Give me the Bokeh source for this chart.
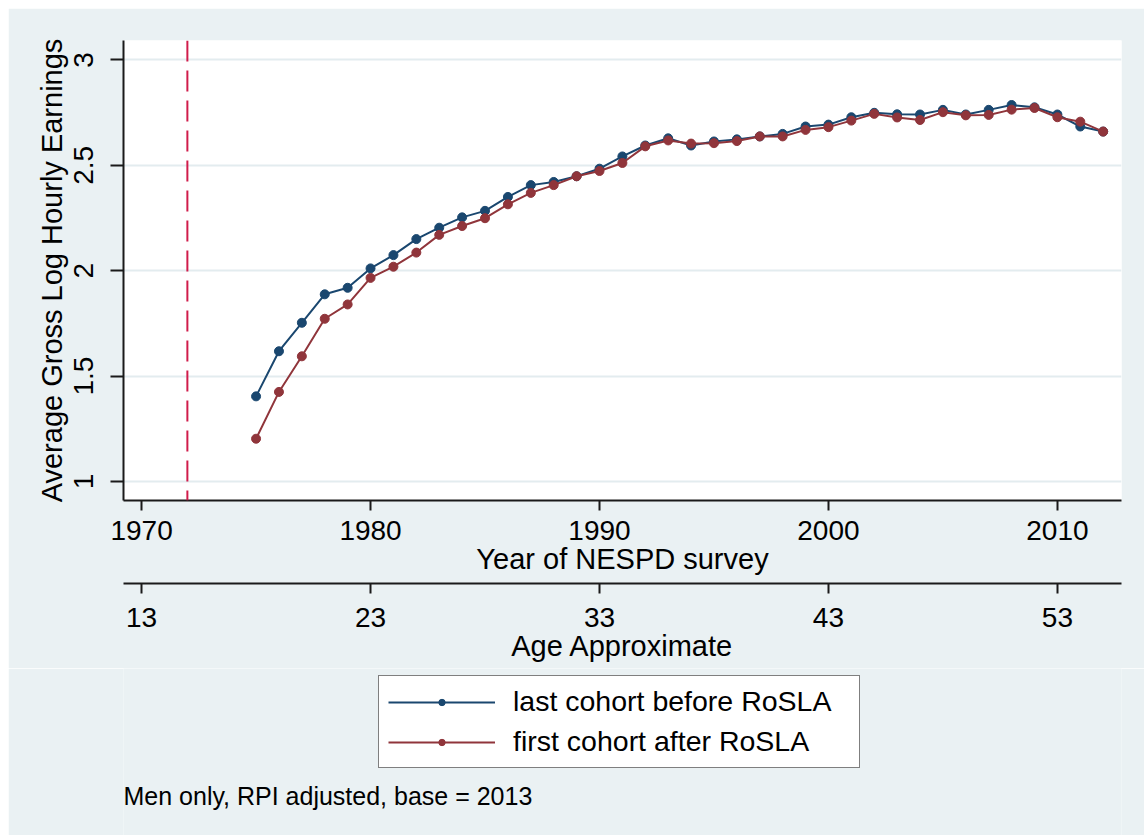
from bokeh.plotting import figure
from bokeh.layouts import column
from bokeh.models import (Range1d, LinearAxis, FixedTicker, Span, Legend,
                          LegendItem, Label)
from bokeh.embed import file_html
from bokeh.resources import INLINE

# ---------------- data ----------------
years = list(range(1975, 2013))
before_rosla = [1.404, 1.618, 1.753, 1.888, 1.919, 2.011, 2.074, 2.150, 2.204, 2.253,
                2.284, 2.350, 2.406, 2.421, 2.448, 2.484, 2.542, 2.594, 2.628, 2.594,
                2.613, 2.623, 2.637, 2.649, 2.684, 2.693, 2.728, 2.749, 2.742, 2.741,
                2.763, 2.741, 2.763, 2.786, 2.775, 2.741, 2.684, 2.660]
after_rosla = [1.203, 1.425, 1.594, 1.772, 1.840, 1.966, 2.019, 2.086, 2.170, 2.212,
               2.249, 2.315, 2.369, 2.406, 2.448, 2.473, 2.511, 2.590, 2.618, 2.603,
               2.605, 2.615, 2.637, 2.637, 2.668, 2.681, 2.712, 2.744, 2.727, 2.715,
               2.752, 2.737, 2.739, 2.764, 2.772, 2.728, 2.707, 2.660]
year_ticks = [1970, 1980, 1990, 2000, 2010]
age_ticks = [13, 23, 33, 43, 53]
y_ticks = [1, 1.5, 2, 2.5, 3]
y_tick_labels = {1: "1", 1.5: "1.5", 2: "2", 2.5: "2.5", 3: "3"}
series_labels = ["last cohort before RoSLA", "first cohort after RoSLA"]
note_text = "Men only, RPI adjusted, base = 2013"
rosla_year = 1972
age_offset = 1957
x_lo, x_hi = 1969.21, 2012.80
y_lo, y_hi = 0.91, 3.092

# ---------------- style ----------------
FONT = "Liberation Sans"
BLUE = "#1A476F"
RED = "#90353B"
BG = "#EAF1F3"
AXIS = "#1A1A1A"

p = figure(width=1136, height=660, x_range=Range1d(x_lo, x_hi),
           y_range=Range1d(y_lo, y_hi), output_backend="svg",
           toolbar_location=None, min_border_left=115, min_border_right=23,
           min_border_top=32, min_border_bottom=168)
p.margin = (8, 0, 0, 8)
p.border_fill_color = BG
p.background_fill_color = "white"
p.outline_line_color = None
p.extra_x_ranges = {"age": Range1d(x_lo - age_offset, x_hi - age_offset)}

def style_axis(ax):
    ax.axis_line_color = AXIS
    ax.axis_line_width = 2
    ax.major_tick_line_color = AXIS
    ax.major_tick_line_width = 2
    ax.major_tick_in = 0
    ax.minor_tick_line_color = None
    ax.major_label_text_font = FONT
    ax.major_label_text_font_size = "28px"
    ax.major_label_text_color = "black"
    ax.axis_label_text_font = FONT
    ax.axis_label_text_font_size = "29px"
    ax.axis_label_text_font_style = "normal"
    ax.axis_label_text_color = "black"

xa = p.xaxis[0]
xa.ticker = FixedTicker(ticks=year_ticks)
xa.axis_label = "Year of NESPD survey"
style_axis(xa)
xa.major_tick_out = 10
xa.major_label_standoff = 10
xa.axis_label_standoff = 0

# invisible spacer between the two stacked x axes
spacer = LinearAxis(ticker=FixedTicker(ticks=[year_ticks[2]]), axis_line_color=None,
                    major_tick_line_color=BG, minor_tick_line_color=None,
                    major_tick_out=2, major_tick_in=0, major_label_standoff=0,
                    major_label_text_font_size="1px", major_label_text_color=BG,
                    major_label_overrides={year_ticks[2]: " "})
p.add_layout(spacer, "below")

age_axis = LinearAxis(x_range_name="age", ticker=FixedTicker(ticks=age_ticks),
                      axis_label="Age Approximate")
style_axis(age_axis)
age_axis.major_tick_out = 10
age_axis.major_label_standoff = 14
age_axis.axis_label_standoff = 0
p.add_layout(age_axis, "below")

ya = p.yaxis[0]
ya.ticker = FixedTicker(ticks=y_ticks)
ya.major_label_overrides = y_tick_labels
ya.axis_label = "Average Gross Log Hourly Earnings"
style_axis(ya)
ya.major_tick_out = 13
ya.major_label_orientation = "vertical"
ya.major_label_standoff = 17
ya.axis_label_standoff = 4

p.xgrid.visible = False
p.ygrid.ticker = FixedTicker(ticks=y_ticks)
p.ygrid.grid_line_color = "#E3ECEF"
p.ygrid.grid_line_width = 2

p.add_layout(Span(location=rosla_year, dimension="height", line_color="#D01C4B",
                  line_dash="21 9", line_width=2))

lb = p.line(years, before_rosla, line_color=BLUE, line_width=2)
sb = p.scatter(years, before_rosla, size=9, fill_color=BLUE, line_color=BLUE)
la = p.line(years, after_rosla, line_color=RED, line_width=2)
sa = p.scatter(years, after_rosla, size=9, fill_color=RED, line_color=RED)

# ---------------- legend + note panel ----------------
p2 = figure(width=1136, height=167, x_range=Range1d(0, 1), y_range=Range1d(0, 1),
            output_backend="svg", toolbar_location=None,
            x_axis_type=None, y_axis_type=None, min_border=0)
p2.margin = (0, 0, 0, 8)
p2.border_fill_color = BG
p2.background_fill_color = BG
p2.outline_line_color = None
p2.xgrid.visible = False
p2.ygrid.visible = False

# legend keys (the series lie outside this panel's ranges, only their keys show)
kb = p2.line(years, before_rosla, line_color=BLUE, line_width=2)
kbs = p2.scatter(years, before_rosla, fill_color=BLUE, line_color=BLUE)
ka = p2.line(years, after_rosla, line_color=RED, line_width=2)
kas = p2.scatter(years, after_rosla, fill_color=RED, line_color=RED)

legend = Legend(items=[LegendItem(label=series_labels[0], renderers=[kb, kbs]),
                       LegendItem(label=series_labels[1], renderers=[ka, kas])],
                location=(255, 67), orientation="vertical")
legend.label_text_font = FONT
legend.label_text_font_size = "28.5px"
legend.label_text_color = "black"
legend.glyph_width = 107
legend.glyph_height = 16
legend.label_height = 30
legend.label_width = 337
legend.label_standoff = 18
legend.spacing = 7
legend.padding = 9
legend.margin = 0
legend.border_line_color = "black"
legend.border_line_width = 1.5
legend.background_fill_color = "white"
legend.background_fill_alpha = 1
p2.add_layout(legend)

note = Label(x=0, y=40, x_units="screen", y_units="screen", text=note_text,
             text_font=FONT, text_font_size="25px", text_color="black",
             text_baseline="alphabetic")
p2.add_layout(note)

layout = column(p, p2, spacing=0)
open("out.html", "w").write(file_html(layout, INLINE))
